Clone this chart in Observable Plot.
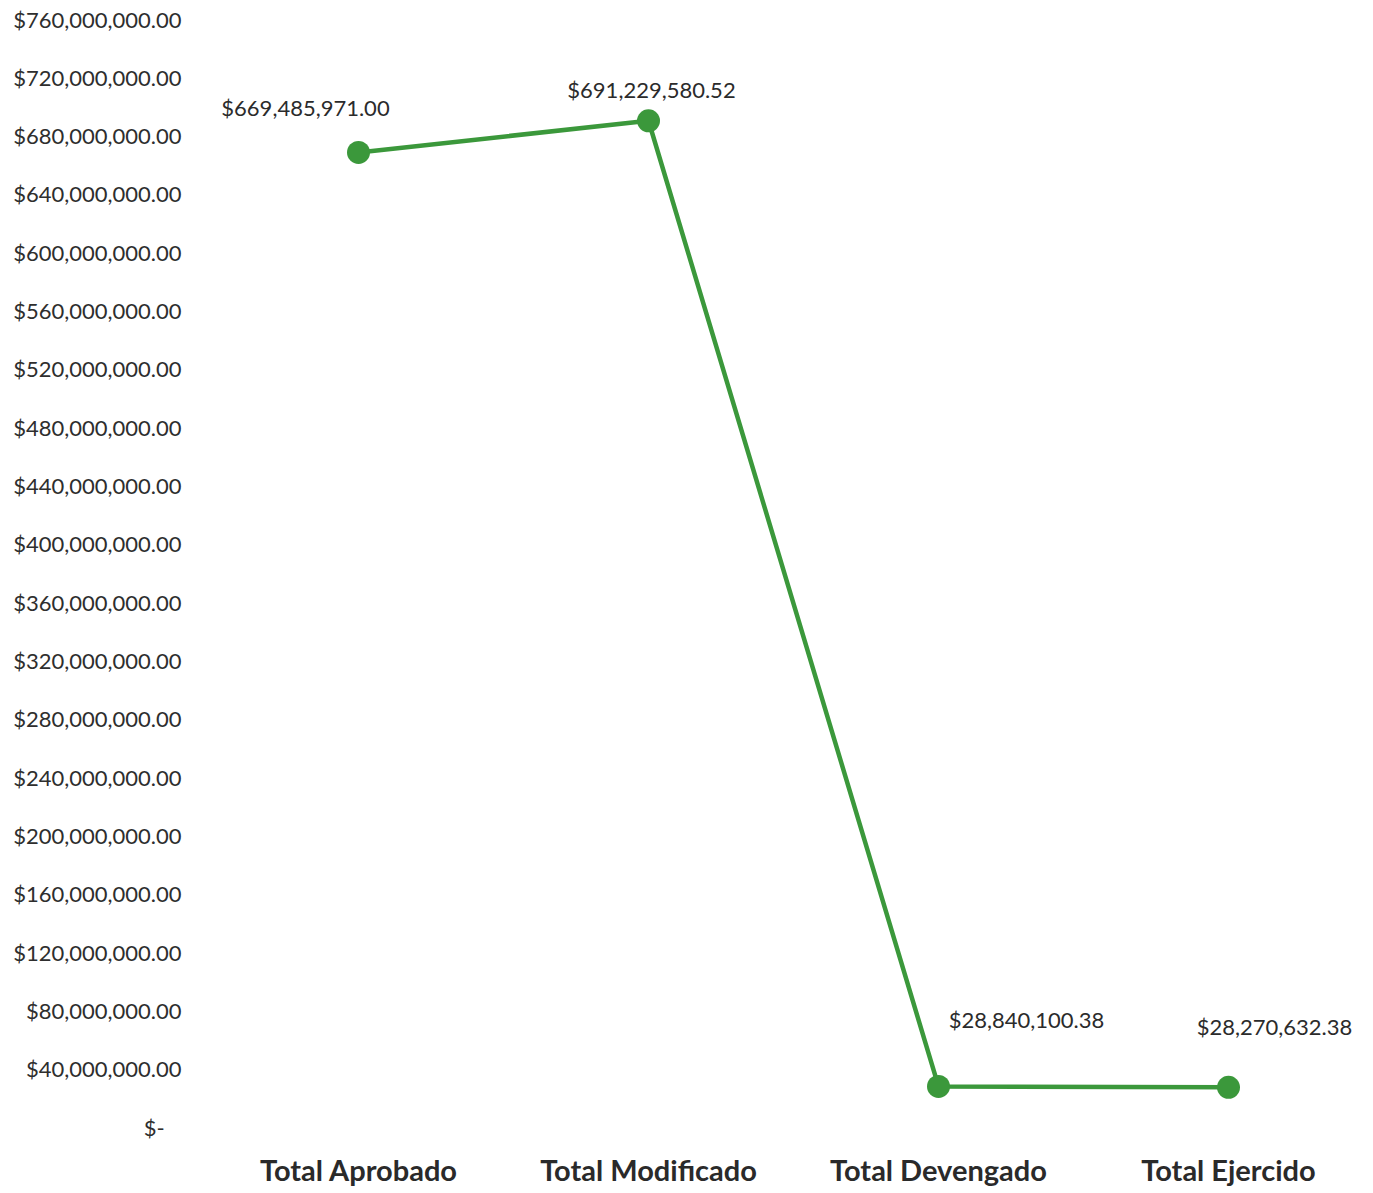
<!DOCTYPE html>
<html>
<head>
<meta charset="utf-8">
<script src="https://cdn.jsdelivr.net/npm/d3@7"></script>
<script src="https://cdn.jsdelivr.net/npm/@observablehq/plot@0.6"></script>
<style>
  html, body { margin: 0; padding: 0; background: #ffffff; }
  #chart svg { display: block; }
</style>
</head>
<body>
<div id="chart"></div>
<script>
// ---- data ----
const categories = ["Total Aprobado", "Total Modificado", "Total Devengado", "Total Ejercido"];
const values = [669485971.00, 691229580.52, 28840100.38, 28270632.38];
const yTicks = [0, 40000000, 80000000, 120000000, 160000000, 200000000, 240000000, 280000000,
  320000000, 360000000, 400000000, 440000000, 480000000, 520000000, 560000000, 600000000,
  640000000, 680000000, 720000000, 760000000];

const data = categories.map((c, i) => ({cat: c, value: values[i]}));

const money = d3.format(",.2f");
const fmtTick = d => d === 0 ? "$-\u00a0\u00a0\u00a0" : "$" + money(d);
const fmtLabel = d => "$" + money(d);

// manual label placement (as in the original)
const nudge = [[-53, -44], [3, -30], [88, -66], [46, -59]];

const green = "#3b983b";

const labelMarks = data.map((d, i) =>
  Plot.text([d], {
    x: "cat", y: "value", text: r => fmtLabel(r.value),
    dx: nudge[i][0], dy: nudge[i][1],
    fontSize: 22, fill: "#2b2b2b", textAnchor: "middle", lineAnchor: "middle"
  })
);

const chart = Plot.plot({
  width: 1373,
  height: 1193,
  marginLeft: 357,
  marginRight: 144,
  marginTop: 20,
  marginBottom: 65,
  style: {fontFamily: "Lato, 'Open Sans', sans-serif", background: "#ffffff", color: "#333"},
  x: {type: "point", domain: categories, padding: 0},
  y: {domain: [0, 760000000]},
  marks: [
    Plot.axisY({ticks: yTicks, tickFormat: fmtTick, tickSize: 0, tickPadding: 176,
      fontSize: 22, fill: "#2e2e2e", label: null}),
    Plot.axisX({tickSize: 0, tickPadding: 32, fontSize: 29, fontWeight: "bold",
      fill: "#2a2a2a", label: null}),
    Plot.lineY(data, {x: "cat", y: "value", stroke: green, strokeWidth: 4.5}),
    Plot.dot(data, {x: "cat", y: "value", r: 11.5, fill: green, stroke: "none"}),
    ...labelMarks
  ]
});

document.getElementById("chart").appendChild(chart);
</script>
</body>
</html>
